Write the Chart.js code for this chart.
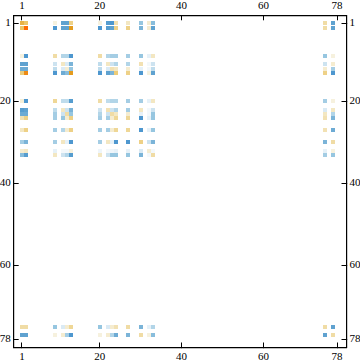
<!DOCTYPE html>
<html>
<head>
<meta charset="utf-8">
<style>
  html, body { margin: 0; padding: 0; background: #fff; }
  canvas { display: block; }
</style>
<script src="https://cdn.jsdelivr.net/npm/chart.js@4"></script>
</head>
<body>
<canvas id="matrix" width="360" height="363"></canvas>
<script>
// row and column numbers that have any non empty cell
var cellIndex = [1, 2, 9, 11, 12, 13, 20, 22, 23, 24, 27, 30, 32, 33, 75, 77];
var tickValues = [1, 20, 40, 60, 78];

// one line per row, same order as cellIndex
// negative = blue, positive = orange
var row1  = [ 6, 5, 1, -6, -6, 4, 1, -6.5, -7, 2.5, 2, -4, 1.5, -4.5, 3, -6];
var row2  = [ 5, 10, -7, -6, -6, 7, -7, -6.5, -6, 4, 4, -5, 1.5, -6, 3, -6];
var row9  = [ 1, -7, 3, -3, -3, -7, 3, -3, -3.5, -3.5, -3.5, -4, -1, 2, -4, 1];
var row11 = [-6, -6, -2, 2, -1.5, -5, -2.5, 2, -2, -3, -3, 2.5, -0.5, -2, -2, 1.5];
var row12 = [-5.5, -5.5, -2.5, -1.5, 1.5, -4, -2.5, -1.5, 2.5, 2, 1.5, -1, -0.5, -2.5, 1.5, -3.5];
var row13 = [ 4.5, 8, -7, -5.5, -4.5, 7, -7, -6, -5, 4.5, 4, -7, 1, -6, 4, -7];
var row20 = [ 1.2, -7, 3.5, -2.5, -2.5, -6.5, 3, -2.5, -3, -3, -3.5, -3.5, -1, 2, -3.5, 1];
var row22 = [-6.5, -6, -2.5, 2, -2, -5, -2, 2.5, -2, -3, -3.5, 2, -0.5, -2, -1.5, 2];
var row23 = [-5.5, -5.5, -3.5, -2, 3, -4, -3, -2, 3, 2, 1.5, -1, -0.5, -4, 2, -3];
var row24 = [ 2.5, 4, -3.5, -4, 1.5, 4, -3.5, -3.5, 1.5, 3.5, 3.5, -7, -1, -4, 2.5, -5];
var row27 = [ 2, 4, -3.5, -3, 1.5, 4, -3.5, -3.5, 1.5, 3.5, 3.5, -7, -1, -4, 2.5, -5.5];
var row30 = [-3.5, -5, -3.5, 2, -1, -7, -3.5, 2, -1, -7, -7, 4, -2, -5, -5, 3];
var row32 = [ 1.5, 2, -1, -0.5, -0.5, 1, -0.7, -0.5, -0.7, -1, -1, -1.5, 1.5, -0.5, -1, 1];
var row33 = [-4.5, -6.5, 2, -2, -3, -6.5, 2, -2, -4, -4, -4, -5, -0.5, 3, -3.5, -4];
var row75 = [ 3, 3, -4, -1.5, 1.5, 3.5, -4, -1.5, 1.5, 2.5, 3, -5, -1, -3, 3, -6];
var row77 = [-6, -6, 1, 1.5, -3.5, -7, 1, 1.5, -3, -5.5, -5, 3, 1, -4.5, -6, 3];
var rows = [row1, row2, row9, row11, row12, row13, row20, row22, row23, row24, row27, row30, row32, row33, row75, row77];

// colour stops, value then rgb
var stopValues = [-8, -6, -4, -2, 0, 1, 3, 5, 7, 10];
var stopColors = [
  [60, 140, 205], [95, 162, 208], [150, 198, 224], [205, 227, 240], [255, 255, 255],
  [246, 241, 222], [240, 220, 165], [236, 198, 105], [228, 155, 30], [255, 105, 0]
];

function cellColor(v) {
  for (var i = 1; i < stopValues.length; i++) {
    if (v <= stopValues[i]) {
      var t = (v - stopValues[i - 1]) / (stopValues[i] - stopValues[i - 1]);
      var a = stopColors[i - 1], b = stopColors[i];
      return "rgb(" + Math.round(a[0] + (b[0] - a[0]) * t) + "," +
        Math.round(a[1] + (b[1] - a[1]) * t) + "," +
        Math.round(a[2] + (b[2] - a[2]) * t) + ")";
    }
  }
  return "rgb(255,105,0)";
}

var points = [];
for (var r = 0; r < rows.length; r++) {
  for (var c = 0; c < cellIndex.length; c++) {
    points.push({x: cellIndex[c], y: cellIndex[r], v: rows[r][c]});
  }
}

// cells are 4px squares, keep them on whole pixels so they stay crisp
var snapCells = {
  id: "snapCells",
  afterDatasetsUpdate: function(chart) {
    chart.getDatasetMeta(0).data.forEach(function(p) {
      p.x = Math.round(p.x);
      p.y = Math.round(p.y);
    });
  }
};

function axis(position, min, max, reverse, size) {
  var horizontal = position == "top" || position == "bottom";
  return {
    type: "linear",
    position: position,
    min: min,
    max: max,
    reverse: reverse,
    afterBuildTicks: function(scale) {
      scale.ticks = tickValues.map(function(v) { return {value: v}; });
    },
    afterFit: function(scale) {
      if (horizontal) { scale.height = size; } else { scale.width = size; }
    },
    border: {display: true, color: "#000", width: 1.2},
    grid: {drawOnChartArea: false, drawTicks: true, tickLength: -5, tickColor: "#000", tickWidth: 1},
    ticks: {
      autoSkip: false,
      maxRotation: 0,
      padding: 8,
      color: "#000",
      font: {family: "Liberation Serif", size: 11}
    }
  };
}

var ctx = document.getElementById("matrix").getContext("2d", {alpha: false});
var chart = new Chart(ctx, {
  type: "scatter",
  data: {
    datasets: [{
      data: points,
      pointStyle: "rect",
      pointRadius: 2.83,
      pointBorderWidth: 0,
      backgroundColor: function(c) { return c.raw ? cellColor(c.raw.v) : "#fff"; }
    }]
  },
  options: {
    responsive: false,
    animation: false,
    layout: {padding: 0},
    plugins: {legend: {display: false}, tooltip: {enabled: false}},
    scales: {
      x: axis("bottom", -1, 80.3, false, 15.5),
      x2: axis("top", -1, 80.3, false, 15.3),
      y: axis("left", -1, 80.05, true, 13.7),
      y2: axis("right", -1, 80.05, true, 13.5)
    }
  },
  plugins: [snapCells, {
    id: "whiteBack",
    beforeDraw: function(c) {
      c.ctx.fillStyle = "#fff";
      c.ctx.fillRect(0, 0, c.width, c.height);
    }
  }]
});
</script>
</body>
</html>
